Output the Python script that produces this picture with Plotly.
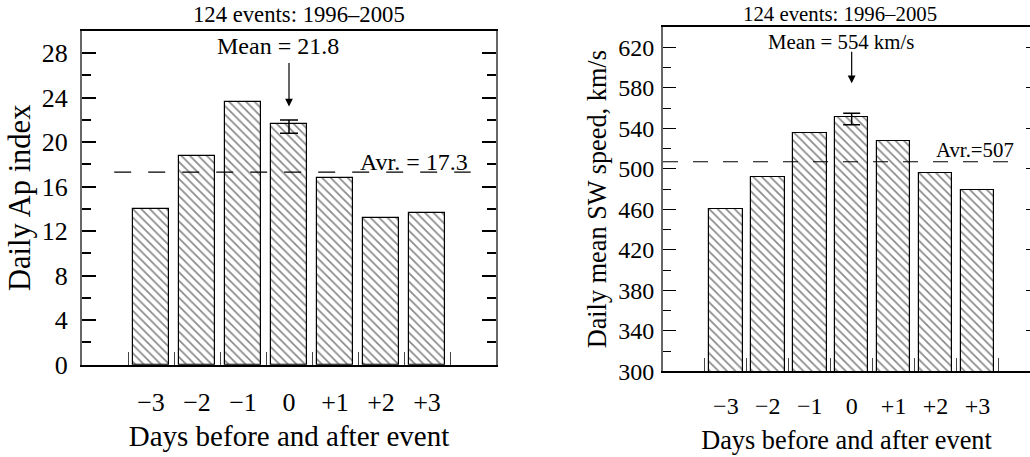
import plotly.graph_objects as go

# ---------------- data ----------------
days = [-3, -2, -1, 0, 1, 2, 3]
day_labels = ["−3", "−2", "−1", "0", "+1", "+2", "+3"]

ap_values = [14.0, 18.8, 23.6, 21.6, 16.8, 13.2, 13.6]
ap_err_day = 0
ap_err_plus = 0.4
ap_err_minus = 0.8
ap_avg = 17.3
ap_mean = 21.8

sw_values = [460, 491.5, 535.5, 551.5, 527.5, 495.5, 479.5]
sw_err_day = 0
sw_err_plus = 3.5
sw_err_minus = 8.0
sw_avg = 507
sw_mean = 554

ap_ticks = [0, 4, 8, 12, 16, 20, 24, 28]
sw_ticks = [300, 340, 380, 420, 460, 500, 540, 580, 620]
half_days = [-3.5, -2.5, -1.5, -0.5, 0.5, 1.5, 2.5, 3.5]

title_text = "124 events: 1996–2005"
x_title = "Days before and after event"

FONT = "Liberation Serif"
W, H = 1030, 457

def px(x):
    return x / W

def py(y):
    return 1 - y / H

def f(size):
    return dict(family=FONT, size=size, color="black")

fig = go.Figure()

hatch = dict(shape="\\", size=6, solidity=0.28, fgcolor="#111", bgcolor="white")

fig.add_trace(go.Bar(
    x=days, y=ap_values, width=0.78, xaxis="x", yaxis="y",
    marker=dict(color="white", line=dict(color="black", width=1.2), pattern=hatch),
    showlegend=False, hoverinfo="skip"))
fig.add_trace(go.Scatter(
    x=[ap_err_day], y=[ap_values[days.index(ap_err_day)]], mode="markers",
    xaxis="x", yaxis="y", marker=dict(size=2, color="rgba(0,0,0,0)"),
    error_y=dict(type="data", symmetric=False, array=[ap_err_plus], arrayminus=[ap_err_minus],
                 color="black", thickness=1.5, width=9),
    showlegend=False, hoverinfo="skip"))

fig.add_trace(go.Bar(
    x=days, y=sw_values, width=0.8, xaxis="x2", yaxis="y2",
    marker=dict(color="white", line=dict(color="black", width=1.2), pattern=hatch),
    showlegend=False, hoverinfo="skip"))
fig.add_trace(go.Scatter(
    x=[sw_err_day], y=[sw_values[days.index(sw_err_day)]], mode="markers",
    xaxis="x2", yaxis="y2", marker=dict(size=2, color="rgba(0,0,0,0)"),
    error_y=dict(type="data", symmetric=False, array=[sw_err_plus], arrayminus=[sw_err_minus],
                 color="black", thickness=1.5, width=8.5),
    showlegend=False, hoverinfo="skip"))
# carrier trace for the right-hand tick axis of the second panel
fig.add_trace(go.Scatter(
    x=[0], y=[sw_avg], mode="markers", xaxis="x2", yaxis="y3",
    marker=dict(size=1, color="rgba(0,0,0,0)"), showlegend=False, hoverinfo="skip"))

common_x = dict(
    tickmode="array", tickvals=days, ticktext=day_labels, ticks="",
    showline=True, linecolor="black", linewidth=2, mirror=True,
    showgrid=False, zeroline=False,
    minor=dict(tickmode="array", tickvals=half_days, ticks="inside", ticklen=13,
               tickcolor="#444", tickwidth=1.3),
)

fig.update_layout(
    width=W, height=H,
    margin=dict(l=0, r=0, t=0, b=0),
    paper_bgcolor="white", plot_bgcolor="white",
    font=dict(family=FONT, color="black"),
    bargap=0,
    xaxis=dict(common_x, domain=[px(82), px(496)], range=[-4.5, 4.5], anchor="y",
               tickfont=f(26), ticklabelstandoff=13,
               title=dict(text=x_title, font=f(29), standoff=10)),
    yaxis=dict(domain=[py(377), py(32)], range=[0, 30], anchor="x",
               tickmode="array", tickvals=ap_ticks, ticks="inside", ticklen=14,
               tickcolor="black", tickwidth=1.5,
               showline=True, linecolor="#666", linewidth=2, mirror="ticks",
               showgrid=False, zeroline=False, tickfont=f(26),
               ticklabelstandoff=7,
               minor=dict(dtick=2, tick0=0, ticks="inside", ticklen=9,
                          tickcolor="black", tickwidth=1.5),
               title=dict(text="Daily Ap index", font=f(30.5), standoff=2)),
    xaxis2=dict(common_x, domain=[px(663), 1.0], range=[-4.5, 4.253], anchor="y2",
                tickfont=f(24), ticklabelstandoff=12,
                title=dict(text=x_title, font=f(26.3), standoff=12)),
    yaxis2=dict(domain=[py(384), py(28)], range=[300, 640], anchor="x2",
                tickmode="array", tickvals=sw_ticks, ticks="inside", ticklen=13,
                tickcolor="black", tickwidth=1.3,
                showline=True, linecolor="#666", linewidth=2, mirror=False,
                showgrid=False, zeroline=False, tickfont=f(24),
                ticklabelstandoff=2,
                minor=dict(dtick=20, tick0=300, ticks="inside", ticklen=8,
                           tickcolor="black", tickwidth=1.3),
                title=dict(text="Daily mean SW speed, km/s", font=f(26.3), standoff=4)),
    yaxis3=dict(overlaying="y2", side="right", anchor="free", position=1.0,
                range=[300, 640], tickmode="array", tickvals=sw_ticks,
                ticks="inside", ticklen=4, tickcolor="black", tickwidth=1.3,
                showticklabels=False, showline=False, showgrid=False, zeroline=False),
)

# average dashed lines
fig.add_shape(type="line", xref="x", yref="y", x0=-3.8, x1=3.95, y0=ap_avg, y1=ap_avg,
              line=dict(color="black", width=1.2, dash="17px,17px"))
fig.add_shape(type="line", xref="x2", yref="y2", x0=-4.5, x1=3.92, y0=sw_avg, y1=sw_avg,
              line=dict(color="black", width=1.2, dash="15px,15px"))

# titles and labels
ann = [
    dict(text=title_text, x=px(299), y=py(15), font=f(22.7)),
    dict(text=f"Mean = {ap_mean}", x=px(277.5), y=py(48), font=f(24)),
    dict(text=f"Avr. = {ap_avg}", x=px(414), y=py(167), font=f(24)),
    dict(text=title_text, x=px(840), y=py(14), font=f(20.8)),
    dict(text=f"Mean = {sw_mean} km/s", x=px(840.5), y=py(42.7), font=f(20.8)),
    dict(text=f"Avr.={sw_avg}", x=px(975), y=py(155), font=f(20.8)),
]
for a in ann:
    fig.add_annotation(xref="paper", yref="paper", xanchor="center", yanchor="middle",
                       showarrow=False, **a)

# arrows pointing at the event-day bar
fig.add_annotation(xref="x", yref="y", x=0, y=23.2, text="", showarrow=True,
                   ax=0, ay=-45, arrowhead=2, arrowsize=1.3, arrowwidth=1.2,
                   arrowcolor="black")
fig.add_annotation(xref="x2", yref="y2", x=0, y=584.5, text="", showarrow=True,
                   ax=0, ay=-33, arrowhead=2, arrowsize=1.3, arrowwidth=1.2,
                   arrowcolor="black")

fig.write_html("out.html")
